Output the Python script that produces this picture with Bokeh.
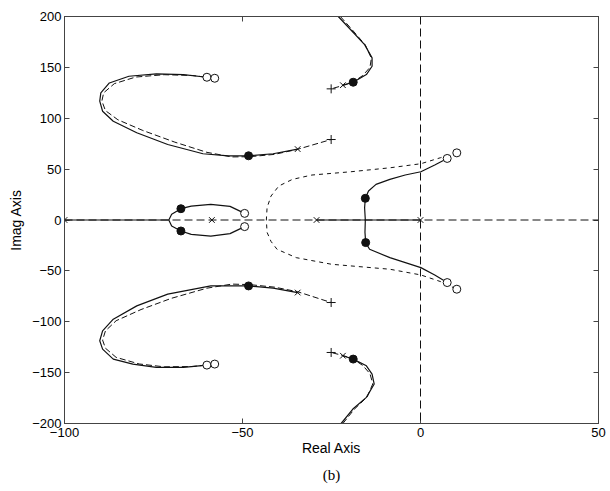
from bokeh.plotting import figure
from bokeh.models import LinearAxis, FixedTicker, Range1d, Span, Title
from bokeh.embed import file_html
from bokeh.resources import INLINE

# ---- axis ticks ----
x_ticks = [-100, -50, 0, 50]
y_ticks = [-200, -150, -100, -50, 0, 50, 100, 150, 200]
x_tick_labels = {-100: "\u2212100", -50: "\u221250", 0: "0", 50: "50"}
y_tick_labels = {-200: "\u2212200", -150: "\u2212150", -100: "\u2212100", -50: "\u221250",
                 0: "0", 50: "50", 100: "100", 150: "150", 200: "200"}

# ---- root locus branches ----
# upper-left loop
ul_solid_x = [-60.0, -66.6, -74.2, -81.9, -87.4, -89.8, -90.1, -89.3, -86.3, -79.7, -71.0, -61.1, -54.0, -48.3, -41.4, -34.5]
ul_solid_y = [140.3, 142.9, 143.6, 141.3, 134.7, 124.9, 116.8, 106.9, 97.1, 85.7, 74.2, 65.1, 63.0, 63.1, 65.1, 69.7]
ul_dash_x = [-58.0, -64.0, -72.0, -80.0, -86.0, -89.0, -89.5, -88.5, -85.0, -78.0, -69.0, -60.0, -53.0, -48.0, -41.0, -34.5, -25.1]
ul_dash_y = [139.3, 142.0, 142.8, 140.5, 134.0, 125.0, 117.0, 107.5, 98.5, 88.0, 76.5, 66.5, 62.0, 62.2, 64.5, 69.5, 79.1]
# lower-left loop
ll_solid_x = [-60.0, -66.6, -74.2, -80.8, -86.3, -89.3, -90.1, -89.3, -86.3, -79.7, -71.0, -58.9, -48.3, -41.4, -34.5]
ll_solid_y = [-142.6, -144.9, -144.9, -141.6, -136.7, -126.9, -118.7, -108.9, -97.5, -84.4, -72.9, -64.8, -64.8, -67.0, -71.3]
ll_dash_x = [-57.8, -64.0, -72.0, -79.0, -85.5, -88.5, -89.3, -88.5, -85.5, -78.5, -70.0, -60.0, -53.0, -48.0, -41.0, -34.5, -25.1]
ll_dash_y = [-141.6, -144.0, -144.3, -141.5, -135.0, -126.0, -118.0, -109.0, -99.0, -88.0, -77.0, -67.0, -63.0, -63.5, -66.0, -70.5, -81.1]
# upper-right branch
ur_solid_x = [-23.1, -19.6, -15.7, -13.6, -13.6, -15.2, -18.9, -21.8]
ur_solid_y = [200.0, 187.0, 172.4, 159.3, 151.1, 142.9, 135.4, 132.5]
ur_dash_x = [-22.5, -19.2, -15.5, -13.8, -14.2, -16.2, -19.2, -22.0, -25.1]
ur_dash_y = [200.0, 187.0, 172.0, 159.0, 150.0, 142.0, 135.0, 132.0, 128.9]
# lower-right branch
lr_solid_x = [-22.3, -19.0, -15.2, -13.0, -13.6, -15.2, -18.9, -21.8]
lr_solid_y = [-200.0, -185.8, -174.3, -161.2, -151.4, -143.3, -136.7, -133.4]
lr_dash_x = [-21.8, -18.6, -15.0, -13.4, -14.2, -16.2, -19.2, -22.0, -25.1]
lr_dash_y = [-200.0, -186.0, -174.0, -161.0, -151.0, -143.0, -136.0, -133.0, -130.2]
# centre solid branch (through breakaway at -15.5)
cs_x = [7.5, 4.0, 0.1, -4.3, -8.6, -12.5, -14.6, -15.5, -15.7, -15.5, -15.6, -15.4, -14.3, -8.6, 0.1, 4.0, 7.5]
cs_y = [60.5, 54.0, 47.4, 44.2, 39.9, 35.0, 28.5, 21.3, 12.1, 0.0, -12.0, -22.2, -28.8, -37.0, -46.8, -54.0, -61.5]
# centre dashed branch (through breakaway at -43.3)
cd_x = [10.2, 5.6, 0.1, -8.6, -19.6, -30.5, -36.0, -39.8, -42.0, -43.1, -43.3, -43.1, -42.0, -40.3, -34.9, -25.0, -8.6, 0.1, 5.6, 10.2]
cd_y = [66.0, 61.2, 55.3, 51.3, 47.4, 44.2, 39.9, 33.4, 23.5, 12.1, 0.0, -12.1, -21.0, -28.8, -37.0, -43.5, -48.4, -54.0, -60.5, -68.0]
# small loop near -60
sl_x = [-49.4, -53.5, -58.9, -64.4, -67.3, -69.9, -70.7, -69.9, -67.3, -64.4, -58.9, -53.5, -49.4]
sl_y = [6.5, 13.4, 15.4, 13.7, 11.1, 5.6, 0.0, -5.9, -10.8, -14.1, -15.8, -13.4, -6.5]
# locus segments on the real axis
real_seg_x0 = [-100.0, -29.2]
real_seg_x1 = [-70.7, 0.0]

# ---- markers ----
pole_x_x = [-100.0, -58.6, -29.2, 0.0, -34.5, -34.5, -21.8, -21.8]
pole_x_y = [0.0, 0.0, 0.0, 0.0, 69.7, -71.3, 132.5, -133.4]
pole_plus_x = [-25.1, -25.1, -25.1, -25.1]
pole_plus_y = [79.1, 128.9, -81.1, -130.2]
cl_x = [-48.3, -48.3, -18.9, -18.9, -67.3, -67.3, -15.5, -15.4]
cl_y = [63.1, -64.8, 135.4, -136.7, 11.1, -10.8, 21.3, -22.2]
zero_x = [-60.0, -57.8, -60.0, -57.8, -49.4, -49.4, 7.5, 10.2, 7.5, 10.2]
zero_y = [140.3, 139.3, -142.6, -141.6, 6.5, -6.5, 60.5, 66.0, -61.5, -68.0]

FONT = "Liberation Sans"
INK = "#111111"
FRAME = "#444444"

p = figure(width=610, height=491, x_range=Range1d(-100, 50), y_range=Range1d(-200, 200),
           output_backend="svg", toolbar_location=None,
           min_border_left=64, min_border_right=12, min_border_top=16, min_border_bottom=68)
p.xgrid.visible = False
p.ygrid.visible = False
p.outline_line_color = FRAME
p.background_fill_color = "white"

def style_axis(ax, ticks, labels, show_labels=True):
    ax.ticker = FixedTicker(ticks=ticks)
    ax.major_label_overrides = labels
    ax.major_tick_in = 5
    ax.major_tick_out = 0
    ax.minor_tick_line_color = None
    ax.axis_line_color = FRAME
    ax.major_tick_line_color = FRAME
    ax.major_label_text_font = FONT
    ax.major_label_text_color = "black"
    if show_labels:
        ax.major_label_text_font_size = "13px"
    else:
        ax.major_label_text_font_size = "0px"
        ax.major_label_standoff = 0

style_axis(p.xaxis[0], x_ticks, x_tick_labels)
style_axis(p.yaxis[0], y_ticks, y_tick_labels)
p.xaxis.major_label_standoff = 4
p.yaxis.major_label_standoff = 3
p.xaxis.axis_label = "Real Axis"
p.yaxis.axis_label = "Imag Axis"
for ax in (p.xaxis[0], p.yaxis[0]):
    ax.axis_label_text_font = FONT
    ax.axis_label_text_font_size = "14px"
    ax.axis_label_text_font_style = "normal"
    ax.axis_label_text_color = "black"
p.xaxis.axis_label_standoff = 0
p.yaxis.axis_label_standoff = 5

top_ax = LinearAxis()
style_axis(top_ax, x_ticks, {t: "" for t in x_ticks}, show_labels=False)
p.add_layout(top_ax, "above")
right_ax = LinearAxis()
style_axis(right_ax, y_ticks, {t: "" for t in y_ticks}, show_labels=False)
p.add_layout(right_ax, "right")

# caption below the axis label
p.add_layout(Title(text="(b)", align="center", offset=-23, standoff=12,
                   text_font="Liberation Serif", text_font_size="15px",
                   text_font_style="normal", text_color="black"), "below")

# reference axes through the origin
p.add_layout(Span(location=0, dimension="height", line_color=INK, line_width=1, line_dash="8 4"))
p.add_layout(Span(location=0, dimension="width", line_color=INK, line_width=1, line_dash="8 4"))

# real-axis locus segments
p.segment(x0=real_seg_x0, y0=[0, 0], x1=real_seg_x1, y1=[0, 0], line_color=INK, line_width=1.2)

# solid branches
for xs, ys in [(ul_solid_x, ul_solid_y), (ll_solid_x, ll_solid_y), (ur_solid_x, ur_solid_y),
               (lr_solid_x, lr_solid_y), (cs_x, cs_y), (sl_x, sl_y)]:
    p.line(xs, ys, line_color=INK, line_width=1.2)
# dashed branches
for xs, ys in [(ul_dash_x, ul_dash_y), (ll_dash_x, ll_dash_y), (ur_dash_x, ur_dash_y),
               (lr_dash_x, lr_dash_y)]:
    p.line(xs, ys, line_color=INK, line_width=1, line_dash="6 3")
p.line(cd_x, cd_y, line_color=INK, line_width=1, line_dash="4 4")

# markers
p.scatter(pole_x_x, pole_x_y, marker="x", size=8, line_color=INK, line_width=1)
p.scatter(pole_plus_x, pole_plus_y, marker="cross", size=9, line_color=INK, line_width=1)
p.scatter(cl_x, cl_y, marker="circle", size=8, fill_color=INK, line_color=INK)
p.scatter(zero_x, zero_y, marker="circle", size=8, fill_color="white", line_color=INK, line_width=1)

open("out.html", "w").write(file_html(p, INLINE))
